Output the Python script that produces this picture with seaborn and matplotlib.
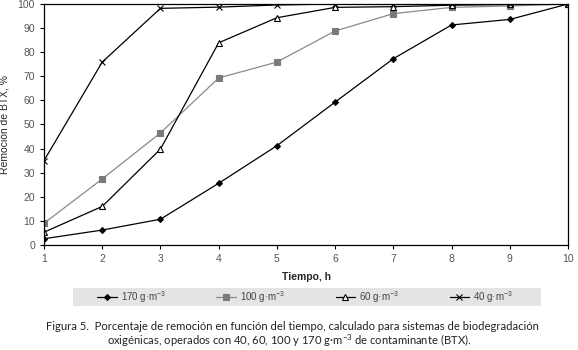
import matplotlib
matplotlib.use("Agg")
import matplotlib.pyplot as plt
from matplotlib.patches import Rectangle
import seaborn as sns
import pandas as pd

sns.set_style("white")
plt.rcParams['font.family'] = ['Liberation Sans', 'DejaVu Sans']
plt.rcParams['mathtext.default'] = 'regular'

tiempo = [1, 2, 3, 4, 5, 6, 7, 8, 9, 10]
s170 = [2.6, 6.2, 10.7, 25.6, 41.2, 59.3, 77.3, 91.3, 93.6, 100]
s100 = [9.0, 27.4, 46.5, 69.3, 75.9, 88.8, 96.0, 98.6, 99.2, 100]
s60 = [5.3, 16.0, 39.8, 83.9, 94.3, 98.6, 98.9, 99.5, 99.8, 100]
s40 = [35.0, 75.9, 98.2, 98.7, 99.6, 100, 99.9, 99.9, 99.9, 100]
labels = [r"170 g·m$^{-3}$", r"100 g·m$^{-3}$", r"60 g·m$^{-3}$", r"40 g·m$^{-3}$"]

fig = plt.figure(figsize=(5.78, 3.5), dpi=100)
ax = fig.add_axes([44/578, 105/350, 524/578, 241/350])

styles = [
    dict(color="black", marker="D", markersize=3, markerfacecolor="black", markeredgecolor="black"),
    dict(color="#8a8a8a", marker="s", markersize=5, markerfacecolor="#7a7a7a", markeredgecolor="#7a7a7a"),
    dict(color="black", marker="^", markersize=5, markerfacecolor="white", markeredgecolor="black"),
    dict(color="black", marker="x", markersize=5, markerfacecolor="black", markeredgecolor="black"),
]
for vals, lab, st in zip([s170, s100, s60, s40], labels, styles):
    df = pd.DataFrame({"Tiempo": tiempo, "Remocion": vals})
    sns.lineplot(data=df, x="Tiempo", y="Remocion", ax=ax, label=lab,
                 linewidth=0.9, markeredgewidth=0.8, **st)

ax.set_xlim(1, 10)
ax.set_ylim(0, 100)
ax.set_xticks(range(1, 11))
ax.set_yticks(range(0, 101, 10))
for s in ax.spines.values():
    s.set_color("black")
    s.set_linewidth(0.9)
ax.tick_params(axis="both", labelsize=7.5, labelcolor="#555555", length=3, width=0.8,
               color="black", direction="out", bottom=True, left=True)
ax.set_xlabel("Tiempo, h", fontsize=7.5, fontweight="bold", labelpad=6)
ax.set_ylabel("Remoción de BTX, %", fontsize=7.5, labelpad=6)

# gray legend band
fig.patches.append(Rectangle((73/578, 1-306/350), 468/578, 18/350, transform=fig.transFigure,
                             facecolor="#e4e4e4", edgecolor="none", zorder=0))

handles, labs = ax.get_legend_handles_labels()
ax.get_legend().remove()
leg = fig.legend(handles, labs, ncol=4, loc="center", bbox_to_anchor=(305/578, 1-297/350),
                 frameon=False, fontsize=7, handlelength=2.0, handletextpad=0.4,
                 columnspacing=5.2, borderaxespad=0)
for t in leg.get_texts():
    t.set_color("#444444")

fig.text(46/578, 1-326/350, "Figura 5.  Porcentaje de remoción en función del tiempo, calculado para sistemas de biodegradación",
         fontsize=8.1, color="#222222", va="center", family=["Lato", "DejaVu Sans"])
fig.text(0.5, 1-341/350, r"oxigénicas, operados con 40, 60, 100 y 170 g·m$^{-3}$ de contaminante (BTX).",
         fontsize=8.1, color="#222222", va="center", ha="center", family=["Lato", "DejaVu Sans"])

fig.savefig("out.png", dpi=100)
